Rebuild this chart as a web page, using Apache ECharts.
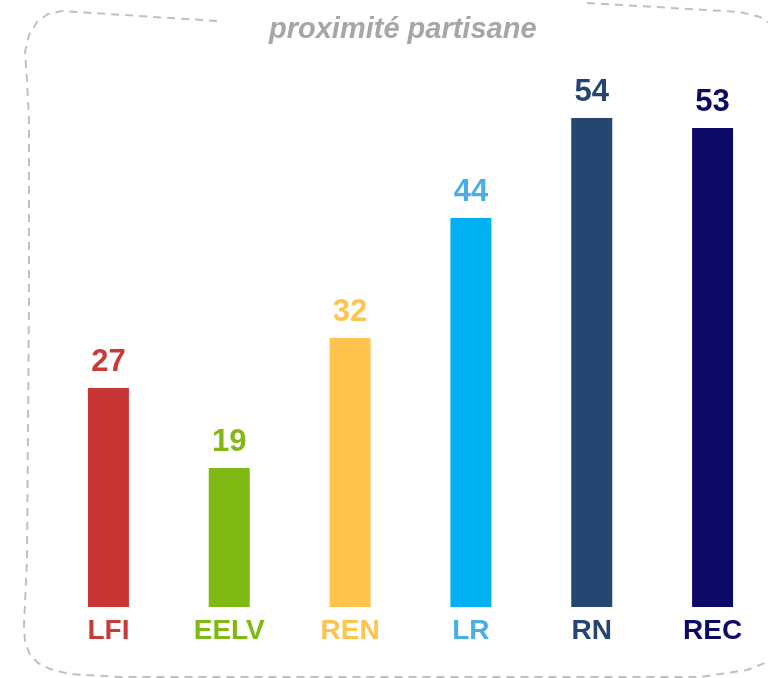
<!DOCTYPE html>
<html><head><meta charset="utf-8">
<script src="https://cdn.jsdelivr.net/npm/echarts@6/dist/echarts.min.js"></script>
<style>html,body{margin:0;padding:0;background:#fff}#c{width:768px;height:678px}</style>
</head><body><div id="c"></div>
<script>
var categories = ['LFI', 'EELV', 'REN', 'LR', 'RN', 'REC'];
var values = [27, 19, 32, 44, 54, 53];
var barColors = ['#c83535', '#80b814', '#ffc34e', '#00b0f0', '#254670', '#0c0a64'];
var labelColors = ['#c83a35', '#80b814', '#ffc34e', '#4aaee6', '#254670', '#0c0a64'];
var titleText = 'proximité partisane';

var chart = echarts.init(document.getElementById('c'));
var font = '"Liberation Sans", Arial, sans-serif';
var dashStyle = {fill: 'none', stroke: '#c0c0c0', lineWidth: 2, lineDash: [8, 6]};
chart.setOption({
  animation: false,
  grid: {left: 48, width: 725, top: 58, height: 549, outerBoundsMode: 'none', containLabel: false},
  xAxis: {
    type: 'category', data: categories,
    axisLine: {show: false}, axisTick: {show: false},
    axisLabel: {
      margin: 10, fontSize: 28, fontWeight: 'bold', fontFamily: font,
      color: function (v, i) { return labelColors[i]; }
    }
  },
  yAxis: {type: 'value', min: 5.1, max: 60, show: false, splitLine: {show: false}},
  graphic: [
    {type: 'text', x: 269, y: 15, style: {text: titleText, fill: '#a6a6a6', font: 'italic bold 29px "Liberation Sans", Arial, sans-serif'}},
    {type: 'polyline', shape: {points: [[217,21],[62,11],[48,14],[37,22],[29,35],[25,52],[27,80],[29,120],[29,300],[27,560],[24,625],[25,642],[30,655],[38,663],[50,669],[70,674],[120,677],[700,677],[747,670],[765,663],[778,655]]},
     style: dashStyle},
    {type: 'polyline', shape: {points: [[587,3],[740,12],[760,17],[778,28]]}, style: dashStyle}
  ],
  series: [{
    type: 'bar', barWidth: 41,
    data: values.map(function (v, i) {
      return {value: v, itemStyle: {color: barColors[i]}, label: {color: labelColors[i]}};
    }),
    label: {show: true, position: 'top', distance: 10, fontSize: 31, fontWeight: 'bold', fontFamily: font}
  }]
});
</script></body></html>
